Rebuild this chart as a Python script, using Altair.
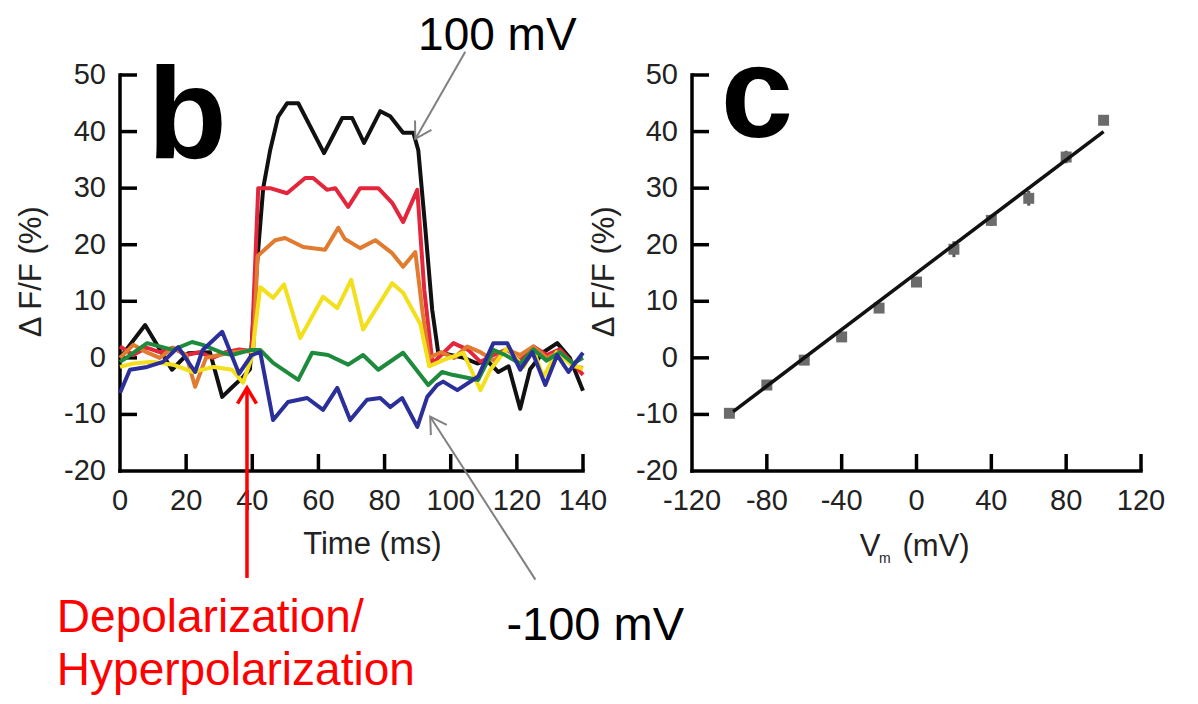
import altair as alt
import pandas as pd

# ---------------- Panel b: fluorescence traces ----------------
black_t = [0, 7.6, 15.7, 20.6, 27.2, 30.9, 33.9, 37.2, 39.3, 41.5, 43.3, 45.4, 47.8, 50.5, 53.9, 61.7, 67.2, 70.2,
           73.8, 78.7, 81.7, 85.6, 88.7, 90.2, 92.3, 94.4, 96.2, 100, 104, 108, 111, 114.4, 117.5, 121, 124, 128,
           132.2, 136, 140]
black_v = [0, 5.8, -2.1, 0.8, 1, -6.9, -5.2, -3.4, -2, 17, 30, 36.7, 42.6, 45, 45, 36.2, 42.4, 42.4,
           38, 43.6, 42.7, 39.8, 39.8, 36.7, 23, 8.5, 1, 0.5, 0, -1, -0.5, -2.5, -1.5, -9, -2, 1,
           2.6, 0, -5.8]

red_t = [0, 4, 8, 12, 16, 20, 24, 28, 32, 36, 39.8, 41.8, 45.4, 50.5, 56, 58.4, 62.6, 65.1, 69, 72.6,
         78.1, 82.3, 85.6, 89.9, 92, 94.5, 100.8, 105.3, 109, 113, 117, 121, 125, 129, 133, 137, 140]
red_v = [2, 0.5, 1.8, 1, 1.8, 0.5, 1, 0, 1, 1.5, 1.2, 30, 30, 29.1, 31.8, 31.8, 29.7, 30, 26.7, 30,
         30, 27.4, 24, 29.7, 12, -1, 2.6, 1.4, -0.7, 0.5, 1.5, -0.5, 2, 0.5, 1.5, -1, -3]

orange_t = [0, 4, 8, 12, 16, 20, 22.7, 26, 30, 34, 38, 40.3, 41.6, 46.9, 49.9, 55.4, 62, 66, 68, 72.6,
            77.2, 82.3, 85.6, 89.3, 91.5, 93.5, 97, 101, 105, 109, 113, 117, 121, 125, 129, 133, 137, 140]
orange_v = [0, 2.3, 1, 0, 1.8, 0.5, -5.1, 0, 0.5, 1, 1.2, 1, 18, 20.8, 21.2, 19.6, 19.1, 23, 21, 19.4,
            20.8, 18.5, 16.1, 18.7, 8, 0, 1, 0, 2, 1, -0.5, 1.5, 0.5, 2, 0, 1, -1.5, -1.8]

yellow_t = [0, 4, 9.7, 16, 22, 28.4, 33.9, 37.2, 39.8, 42.4, 46.3, 49.6, 54.5, 61.4, 65.7, 69.9, 73.5, 82.3,
            85.6, 90.8, 93.5, 97.7, 103.8, 109, 112, 117.1, 122, 125, 128, 132, 136, 140]
yellow_v = [-1.6, -1, -0.7, -1.2, -2.5, -1.6, -2.1, -4.4, 0, 12.5, 10.6, 13, 3.5, 10.8, 8.8, 13.8, 5, 13.2,
            11.5, 6, -1.5, -0.4, 0.9, -5.7, -2.1, 1.8, -1.6, 1.4, -3.4, 1, -1, -2]

green_t = [0, 2.4, 8.2, 16, 21.8, 25, 30.9, 33.9, 39.6, 42.4, 46.3, 53.9, 58.1, 62.9, 69, 73.5, 78.1, 85.6,
           93.2, 97.4, 100.5, 108.3, 112.9, 116.5, 121, 125, 129, 133, 137, 140]
green_v = [-0.7, 0.2, 2.6, 1.4, 2.8, 2.3, 0.9, 0.5, 1.4, 1.4, -0.9, -3.9, 0.9, 0.5, -1.2, 0.5, -2.1, 0.9,
           -4.8, -2.5, -3, -3.9, 1.4, 0.5, -1, 1.5, -0.5, 1, -1, 0]

blue_t = [0, 3, 8.2, 13, 17.6, 22.7, 25, 30.9, 36, 39.8, 42.4, 46.3, 50.8, 56.6, 61.4, 65.7, 69.6, 74.7,
          78.7, 81.7, 85.3, 89.9, 92.9, 95.9, 97.7, 102, 108.3, 112.9, 117.1, 121, 124.7, 128.6, 132.2,
          135.6, 140]
blue_v = [-6.2, -2.1, -1.6, -0.7, 1.9, -2.5, 1.4, 4.6, -2.8, 0.5, 1, -11, -7.8, -7.1, -9.2, -5.3, -11, -7.4,
          -7.1, -8.7, -7.1, -12.2, -6.9, -4.8, -4.2, -5.7, -3.3, 2.6, 2.6, -2.1, 1, -4.8, 0.5,
          -2.5, 0.9]

trace_colors = ["#111111", "#e3263b", "#e07b30", "#f3df1c", "#1e8a3c", "#2b2f99"]

# ---------------- Panel c: dF/F vs membrane potential ----------------
vm_mv = [-100, -80, -60, -40, -20, 0, 20, 40, 60, 80, 100]
dff_pct = [-9.8, -4.8, -0.4, 3.7, 8.8, 13.4, 19.2, 24.3, 28.2, 35.5, 42]
dff_sem = [0.6, 0.7, 0.6, 0.7, 0.8, 0.8, 1.4, 1.0, 1.3, 1.1, 0.8]
fit_vm = [-98, 100]
fit_dff = [-9.5, 40]

# ---------------- Axes ----------------
b_x_domain = [0, 140]
c_x_domain = [-120, 120]
y_domain = [-20, 50]
b_xticks = [0, 20, 40, 60, 80, 100, 120, 140]
c_xticks = [-120, -80, -40, 0, 40, 80, 120]
y_ticks = [-20, -10, 0, 10, 20, 30, 40, 50]

FONT = "Liberation Sans, Arial, sans-serif"
TICK_COLOR = "#222222"
LABEL_SIZE = 29
TITLE_SIZE = 31

bx = alt.Scale(domain=b_x_domain, range=[112, 575], nice=False, zero=False)
by = alt.Scale(domain=y_domain, range=[463, 67], nice=False, zero=False)
cx = alt.Scale(domain=c_x_domain, range=[684, 1133], nice=False, zero=False)
cy = alt.Scale(domain=y_domain, range=[463, 67], nice=False, zero=False)


def axes_layers(xs, ys, x_domain, xticks, xtitle_layers, ytitle_x):
    layers = []
    frame = pd.DataFrame({"x0": [x_domain[0], x_domain[0]], "x1": [x_domain[0], x_domain[1]],
                          "y0": [y_domain[0], y_domain[0]], "y1": [y_domain[1], y_domain[0]]})
    layers.append(alt.Chart(frame).mark_rule(color="black", strokeWidth=3.5, strokeCap="square").encode(
        x=alt.X("x0:Q", scale=xs, axis=None), x2="x1:Q",
        y=alt.Y("y0:Q", scale=ys, axis=None), y2="y1:Q"))
    yt = pd.DataFrame({"v": y_ticks[1:], "x": [x_domain[0]] * (len(y_ticks) - 1)})
    layers.append(alt.Chart(yt).mark_rule(color="black", strokeWidth=3.5, x2Offset=17).encode(
        x=alt.X("x:Q", scale=xs, axis=None), x2="x:Q", y=alt.Y("v:Q", scale=ys, axis=None)))
    xt = pd.DataFrame({"t": xticks[1:], "y": [y_domain[0]] * (len(xticks) - 1)})
    layers.append(alt.Chart(xt).mark_rule(color="black", strokeWidth=3.5, y2Offset=-17).encode(
        x=alt.X("t:Q", scale=xs, axis=None), y=alt.Y("y:Q", scale=ys, axis=None), y2="y:Q"))
    yl = pd.DataFrame({"v": y_ticks, "lab": [str(v) for v in y_ticks], "x": [x_domain[0]] * len(y_ticks)})
    layers.append(alt.Chart(yl).mark_text(align="right", baseline="middle", dx=-14, fontSize=LABEL_SIZE,
                                          font=FONT, color=TICK_COLOR).encode(
        x=alt.X("x:Q", scale=xs, axis=None), y=alt.Y("v:Q", scale=ys, axis=None), text="lab:N"))
    xl = pd.DataFrame({"t": xticks, "lab": [str(v) for v in xticks], "y": [y_domain[0]] * len(xticks)})
    layers.append(alt.Chart(xl).mark_text(align="center", baseline="alphabetic", dy=39, fontSize=LABEL_SIZE,
                                          font=FONT, color=TICK_COLOR).encode(
        x=alt.X("t:Q", scale=xs, axis=None), y=alt.Y("y:Q", scale=ys, axis=None), text="lab:N"))
    ytl = pd.DataFrame({"x": [ytitle_x], "y": [15.2], "lab": ["\u0394 F/F (%)"]})
    layers.append(alt.Chart(ytl).mark_text(align="center", baseline="middle", angle=270, fontSize=TITLE_SIZE,
                                           font=FONT, color=TICK_COLOR).encode(
        x=alt.X("x:Q", scale=xs, axis=None), y=alt.Y("y:Q", scale=ys, axis=None), text="lab:N"))
    layers.extend(xtitle_layers)
    return layers


def text_layer(xs, ys, x, y, label, **kw):
    df = pd.DataFrame({"x": [x], "y": [y], "lab": [label]})
    return alt.Chart(df).mark_text(**kw).encode(
        x=alt.X("x:Q", scale=xs, axis=None), y=alt.Y("y:Q", scale=ys, axis=None), text="lab:N")


# ----- panel b layers -----
b_traces = []
for ts, vs, col in zip([black_t, red_t, orange_t, yellow_t, green_t, blue_t],
                       [black_v, red_v, orange_v, yellow_v, green_v, blue_v], trace_colors):
    df = pd.DataFrame({"t": ts, "v": vs})
    b_traces.append(alt.Chart(df).mark_line(color=col, strokeWidth=4, strokeJoin="round").encode(
        x=alt.X("t:Q", scale=bx, axis=None), y=alt.Y("v:Q", scale=by, axis=None)))

b_xtitle = [text_layer(bx, by, 76.3, -33.0, "Time (ms)", align="center", baseline="middle",
                       fontSize=TITLE_SIZE, font=FONT, color=TICK_COLOR)]
b_layers = axes_layers(bx, by, b_x_domain, b_xticks, b_xtitle, -26.6) + b_traces

# panel letter and annotations
b_layers.append(text_layer(bx, by, 20.3, 35.3, "b", align="center", baseline="alphabetic",
                           fontSize=130, fontWeight="bold", font=FONT, color="black"))
b_layers.append(text_layer(bx, by, 114.1, 54.4, "100 mV", align="center", baseline="alphabetic",
                           fontSize=46, font=FONT, color="black"))
b_layers.append(text_layer(bx, by, 143.7, -49.8, "-100 mV", align="center", baseline="alphabetic",
                           fontSize=47, font=FONT, color="black"))
b_layers.append(text_layer(bx, by, -19.1, -48.5, "Depolarization/", align="left", baseline="alphabetic",
                           fontSize=46, font=FONT, color="#ff0000"))
b_layers.append(text_layer(bx, by, -19.1, -57.9, "Hyperpolarization", align="left", baseline="alphabetic",
                           fontSize=46, font=FONT, color="#ff0000"))

# arrows
arrow_t0 = [104.4, 125.6, 38.4]
arrow_v0 = [54.1, -39.2, -38.9]
arrow_t1 = [89.3, 93.8, 38.4]
arrow_v1 = [38.7, -10.4, -5.3]
arrow_col = ["#808080", "#808080", "#ff0000"]
arrow_ang = [210, 327, 0]
arrow_w = [2, 2, 3.5]
for i in range(3):
    df = pd.DataFrame({"t0": [arrow_t0[i]], "v0": [arrow_v0[i]], "t1": [arrow_t1[i]], "v1": [arrow_v1[i]]})
    b_layers.append(alt.Chart(df).mark_rule(color=arrow_col[i], strokeWidth=arrow_w[i]).encode(
        x=alt.X("t0:Q", scale=bx, axis=None), x2="t1:Q",
        y=alt.Y("v0:Q", scale=by, axis=None), y2="v1:Q"))
    b_layers.append(alt.Chart(df).mark_point(shape="M-0.6,1L0,0L0.6,1", filled=False, size=1000,
                                             angle=arrow_ang[i], stroke=arrow_col[i],
                                             strokeWidth=arrow_w[i], opacity=1).encode(
        x=alt.X("t1:Q", scale=bx, axis=None), y=alt.Y("v1:Q", scale=by, axis=None)))

panel_b = alt.layer(*b_layers)

# ----- panel c layers -----
c_xtitle = [
    text_layer(cx, cy, -30.4, -35.0, "V", align="left", baseline="alphabetic", fontSize=TITLE_SIZE, font=FONT,
               color=TICK_COLOR),
    text_layer(cx, cy, -20.0, -36.2, "m", align="left", baseline="alphabetic", fontSize=14, font=FONT,
               color=TICK_COLOR),
    text_layer(cx, cy, -7.5, -35.0, "(mV)", align="left", baseline="alphabetic", fontSize=TITLE_SIZE, font=FONT,
               color=TICK_COLOR),
]
c_layers = axes_layers(cx, cy, c_x_domain, c_xticks, c_xtitle, -166.4)

pts = pd.DataFrame({"vm": vm_mv, "dff": dff_pct,
                    "lo": [d - s for d, s in zip(dff_pct, dff_sem)],
                    "hi": [d + s for d, s in zip(dff_pct, dff_sem)]})
c_layers.append(alt.Chart(pts).mark_rule(color="#555555", strokeWidth=3).encode(
    x=alt.X("vm:Q", scale=cx, axis=None), y=alt.Y("lo:Q", scale=cy, axis=None), y2="hi:Q"))
c_layers.append(alt.Chart(pts).mark_square(size=120, color="#6b6b6b", opacity=1).encode(
    x=alt.X("vm:Q", scale=cx, axis=None), y=alt.Y("dff:Q", scale=cy, axis=None)))
fit = pd.DataFrame({"vm": fit_vm, "dff": fit_dff})
c_layers.append(alt.Chart(fit).mark_line(color="#111111", strokeWidth=3.5).encode(
    x=alt.X("vm:Q", scale=cx, axis=None), y=alt.Y("dff:Q", scale=cy, axis=None)))
c_layers.append(text_layer(cx, cy, -85.3, 39.0, "c", align="center", baseline="alphabetic",
                           fontSize=130, fontWeight="bold", font=FONT, color="black"))

panel_c = alt.layer(*c_layers)

chart = alt.layer(panel_b, panel_c).resolve_scale(x="independent", y="independent").properties(
    width=1182, height=688, autosize=alt.AutoSizeParams(type="none"), padding=0, background="white"
).configure_view(stroke=None)

chart.save("out.html", embed_options={"renderer": "svg", "actions": False})
